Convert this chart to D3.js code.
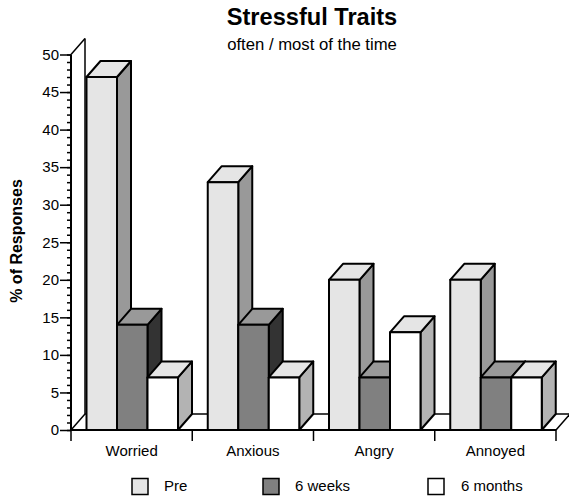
<!DOCTYPE html>
<html lang="en">
  <head>
    <meta charset="utf-8">
    <title>Stressful Traits</title>
    <script src="https://d3js.org/d3.v7.min.js"></script>
    <style>
      html, body { margin: 0; padding: 0; background: #fff; }
      text { font-family: "Liberation Sans", Arial, sans-serif; fill: #000; }
      .axis path { display: none; }
      .axis line { stroke: #000; }
    </style>
  </head>
  <body>
    <div id="chart"></div>
    <script>
      var categories = ["Worried", "Anxious", "Angry", "Annoyed"];
      var seriesNames = ["Pre", "6 weeks", "6 months"];
      var pre = [47, 33, 20, 20];
      var sixWeeks = [14, 14, 7, 7];
      var sixMonths = [7, 7, 13, 7];
      var yMajor = [0, 5, 10, 15, 20, 25, 30, 35, 40, 45, 50];
      var yMinor = d3.range(0, 51);

      var allSeries = [pre, sixWeeks, sixMonths];
      var fronts = ["#e5e5e5", "#808080", "#ffffff"];
      var tops = ["#e5e5e5", "#999999", "#e5e5e5"];
      var sides = ["#999999", "#333333", "#b3b3b3"];

      var width = 569, height = 497,
          plotLeft = 71, plotRight = 556, plotBottom = 430, plotTop = 54.5,
          depthX = 14, depthY = -16;

      var svg = d3.select("#chart").append("svg")
                  .attr("width", width)
                  .attr("height", height)
                  .style("display", "block");

      var xScale = d3.scaleBand().domain(categories).range([plotLeft, plotRight]);
      var inner = d3.scaleBand().domain(d3.range(3))
                    .range([15.5, 107]);
      var yScale = d3.scaleLinear().domain([0, 50]).range([plotBottom, plotTop]);

      // back wall and floor edges
      var edges = [
        [[plotLeft, plotTop], [plotLeft + depthX, plotTop + depthY]],
        [[plotLeft + depthX, plotTop + depthY], [plotLeft + depthX, plotBottom + depthY]],
        [[plotLeft, plotBottom], [plotLeft + depthX, plotBottom + depthY]],
        [[plotLeft + depthX, plotBottom + depthY], [plotRight + depthX, plotBottom + depthY]],
        [[plotRight, plotBottom], [plotRight + depthX, plotBottom + depthY]]
      ];
      svg.append("g").selectAll("line").data(edges).enter().append("line")
         .attr("x1", d => d[0][0]).attr("y1", d => d[0][1])
         .attr("x2", d => d[1][0]).attr("y2", d => d[1][1])
         .attr("stroke", "#000").attr("stroke-width", 1.5);

      // bars, left to right so the nearer faces cover the sides
      categories.forEach(function(cat, c) {
        allSeries.forEach(function(values, s) {
          var x0 = xScale(cat) + inner(s),
              x1 = x0 + inner.bandwidth(),
              y1 = yScale(values[c]),
              g = svg.append("g")
                     .attr("stroke", "#000")
                     .attr("stroke-width", 2)
                     .attr("stroke-linejoin", "round");
          g.append("polygon")
           .attr("points", [[x1, y1], [x1 + depthX, y1 + depthY], [x1 + depthX, plotBottom + depthY], [x1, plotBottom]].join(" "))
           .attr("fill", sides[s]);
          g.append("polygon")
           .attr("points", [[x0, y1], [x0 + depthX, y1 + depthY], [x1 + depthX, y1 + depthY], [x1, y1]].join(" "))
           .attr("fill", tops[s]);
          g.append("rect")
           .attr("x", x0).attr("y", y1)
           .attr("width", x1 - x0).attr("height", plotBottom - y1)
           .attr("fill", fronts[s]);
        });
      });

      // axes
      var yAxisMinor = d3.axisLeft(yScale).tickValues(yMinor).tickSize(4).tickFormat("");
      svg.append("g").attr("class", "axis")
         .attr("transform", `translate(${plotLeft},0)`)
         .call(yAxisMinor)
         .selectAll("line").attr("stroke-width", 1.5);

      var yAxis = d3.axisLeft(yScale).tickValues(yMajor).tickSize(11).tickPadding(1);
      var yG = svg.append("g").attr("class", "axis")
         .attr("transform", `translate(${plotLeft},0)`)
         .call(yAxis);
      yG.selectAll("line").attr("stroke-width", 1.5);
      yG.selectAll("text").style("font-size", "15px").style("font-family", null);

      svg.append("line")
         .attr("x1", plotLeft).attr("x2", plotLeft)
         .attr("y1", plotTop).attr("y2", plotBottom)
         .attr("stroke", "#000").attr("stroke-width", 2);
      svg.append("line")
         .attr("x1", plotLeft).attr("x2", plotRight)
         .attr("y1", plotBottom).attr("y2", plotBottom)
         .attr("stroke", "#000").attr("stroke-width", 2);

      var xTicks = categories.map(d => xScale(d)).concat([plotRight]);
      svg.append("g").selectAll("line").data(xTicks).enter().append("line")
         .attr("x1", d => d).attr("x2", d => d)
         .attr("y1", plotBottom).attr("y2", plotBottom + 11)
         .attr("stroke", "#000").attr("stroke-width", 1.5);

      svg.append("g").selectAll("text").data(categories).enter().append("text")
         .attr("x", d => xScale(d) + xScale.bandwidth() / 2)
         .attr("y", 456)
         .attr("text-anchor", "middle")
         .style("font-size", "15px")
         .text(d => d);

      // titles
      svg.append("text").attr("x", 312).attr("y", 25)
         .attr("text-anchor", "middle")
         .style("font-size", "23.6px").style("font-weight", "bold")
         .text("Stressful Traits");
      svg.append("text").attr("x", 312).attr("y", 50)
         .attr("text-anchor", "middle")
         .style("font-size", "16.7px")
         .text("often / most of the time");
      svg.append("text")
         .attr("transform", "translate(22,241) rotate(-90)")
         .attr("text-anchor", "middle")
         .style("font-size", "16px").style("font-weight", "bold")
         .text("% of Responses");

      // legend
      var legendBox = [132, 263, 428], legendText = [164, 295, 461];
      var legendFill = ["#e5e5e5", "#808080", "#ffffff"];
      var legend = svg.append("g").selectAll("g").data(seriesNames).enter().append("g");
      legend.append("rect")
         .attr("x", (d, i) => legendBox[i]).attr("y", 478.5)
         .attr("width", 16).attr("height", 16)
         .attr("fill", (d, i) => legendFill[i])
         .attr("stroke", "#000").attr("stroke-width", 1.5);
      legend.append("text")
         .attr("x", (d, i) => legendText[i]).attr("y", 491)
         .style("font-size", "15px")
         .text(d => d);
    </script>
  </body>
</html>
